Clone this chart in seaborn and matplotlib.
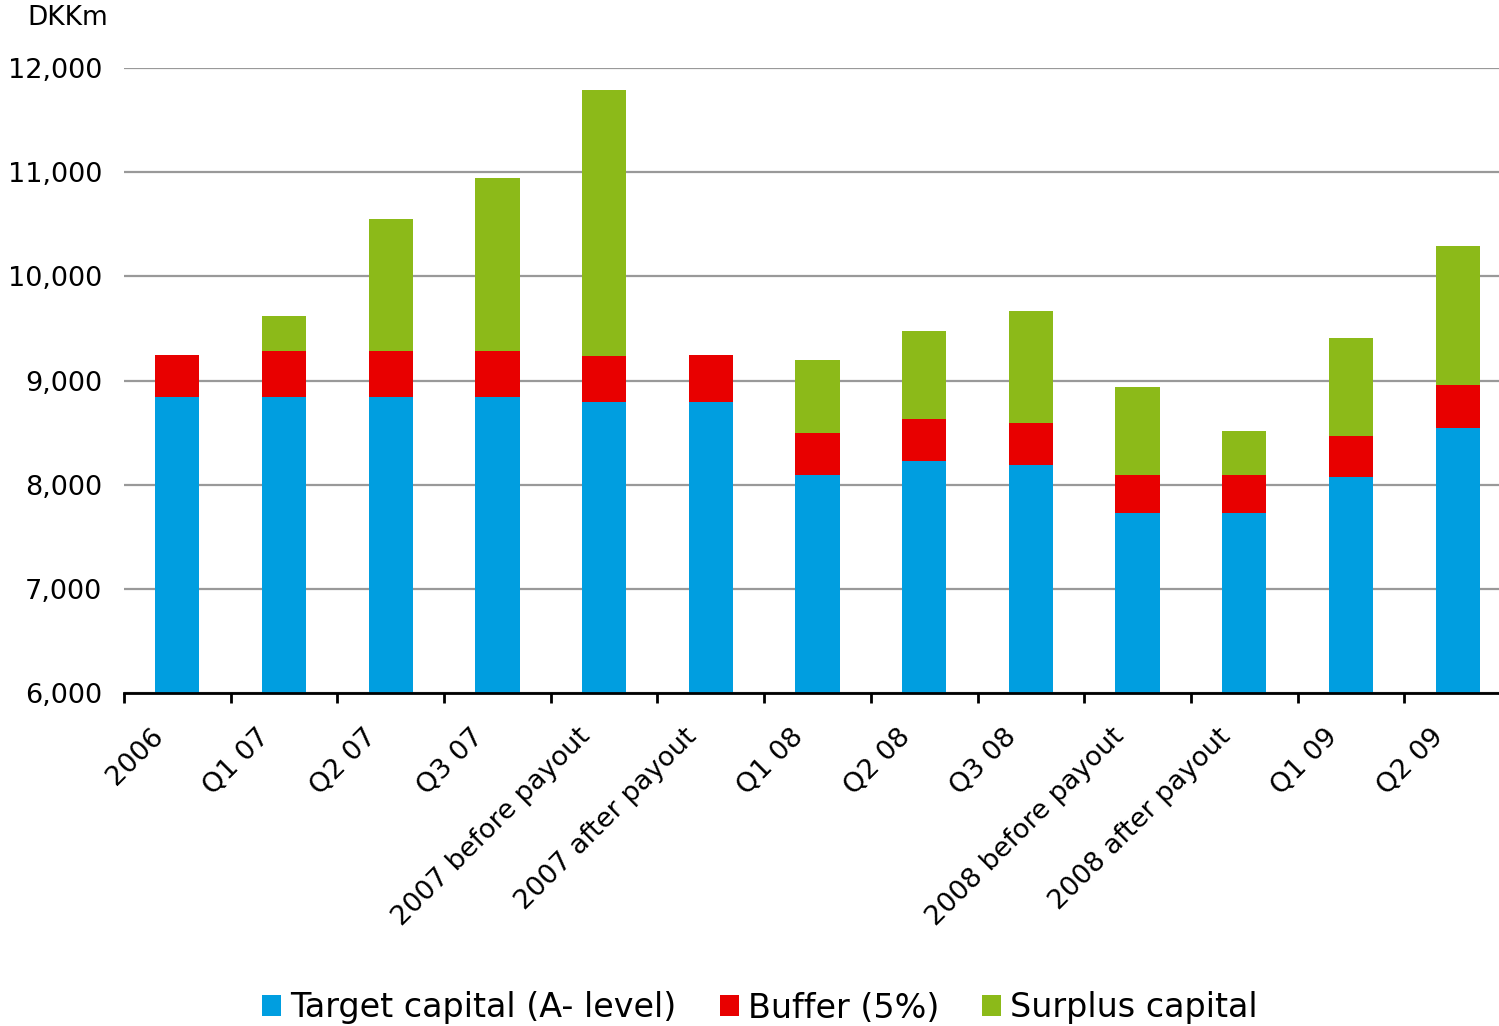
import matplotlib
matplotlib.use("Agg")
import matplotlib.pyplot as plt
import matplotlib.transforms as mtransforms
import seaborn as sns
import pandas as pd
import numpy as np
from matplotlib.patches import Patch

categories = ["2006", "Q1 07", "Q2 07", "Q3 07", "2007 before payout", "2007 after payout",
              "Q1 08", "Q2 08", "Q3 08", "2008 before payout", "2008 after payout", "Q1 09", "Q2 09"]
target = [8840, 8840, 8840, 8840, 8795, 8795, 8093, 8227, 8189, 7728, 7728, 8074, 8544]
buffer = [405, 443, 443, 443, 440, 450, 403, 403, 403, 365, 365, 393, 413]
surplus = [0, 336, 1267, 1661, 2554, 0, 701, 845, 1075, 845, 422, 941, 1334]

labels = ["Target capital (A- level)", "Buffer (5%)", "Surplus capital"]
colors = ["#009EE0", "#E80000", "#8CBA19"]

df = pd.DataFrame({"category": categories, "target": target, "buffer": buffer, "surplus": surplus})
df["lvl1"] = df["target"]
df["lvl2"] = df["target"] + df["buffer"]
df["lvl3"] = df["lvl2"] + df["surplus"]

sns.set_theme(style="white")
plt.rcParams["font.family"] = ["DejaVu Sans"]
plt.rcParams["text.color"] = "black"

fig = plt.figure(figsize=(14.99, 10.26), dpi=100)
ax = fig.add_axes([124 / 1499, 333 / 1026, 1387 / 1499, 625 / 1026])

w = 0.415
sns.barplot(data=df, x="category", y="lvl3", color=colors[2], width=w, saturation=1, ax=ax, zorder=3)
sns.barplot(data=df, x="category", y="lvl2", color=colors[1], width=w, saturation=1, ax=ax, zorder=3)
sns.barplot(data=df, x="category", y="lvl1", color=colors[0], width=w, saturation=1, ax=ax, zorder=3)
for p in ax.patches:
    p.set_edgecolor("none")
    p.set_linewidth(0)

ax.set_xlim(-0.5, len(categories) - 0.5)
ax.set_ylim(6000, 12000)
ax.set_yticks(np.arange(6000, 12001, 1000))
ax.set_yticklabels([f"{v:,}" for v in range(6000, 12001, 1000)], fontsize=19.5)
ax.yaxis.grid(True, color="#999999", linewidth=1.6, zorder=0)
ax.set_axisbelow(True)
ax.tick_params(axis="y", length=0, pad=15.5, labelcolor="black")

ax.set_xticks(range(len(categories)))
ax.set_xticklabels(categories, rotation=45, ha="right", rotation_mode="anchor", fontsize=19.5)
ax.set_xticks(np.arange(-0.5, len(categories), 1.0), minor=True)
ax.tick_params(axis="x", which="major", length=0, pad=22, labelcolor="black")
ax.tick_params(axis="x", which="minor", length=7, width=2, color="black", direction="out", bottom=True)
offset = mtransforms.ScaledTranslation(-0.27, 0, fig.dpi_scale_trans)
for lbl in ax.get_xticklabels():
    lbl.set_transform(lbl.get_transform() + offset)
ax.set_xlabel("")
ax.set_ylabel("")

for s in ["top", "right", "left"]:
    ax.spines[s].set_visible(False)
ax.spines["bottom"].set_color("black")
ax.spines["bottom"].set_linewidth(2)
ax.spines["bottom"].set_zorder(5)

fig.text(27 / 1499, 1 - 18 / 1026, "DKKm", fontsize=19, ha="left", va="center", color="black")

handles = [Patch(facecolor=c, edgecolor="none", label=l) for c, l in zip(colors, labels)]
leg = fig.legend(handles=handles, loc="center", bbox_to_anchor=(760 / 1499, 1 - 1008 / 1026), ncol=3,
                 frameon=False, handlelength=0.57, handleheight=0.57, handletextpad=0.27,
                 columnspacing=1.3, prop={"family": ["DejaVu Sans"], "size": 24})
for t in leg.get_texts():
    t.set_color("black")

fig.savefig("out.png", dpi=100)
